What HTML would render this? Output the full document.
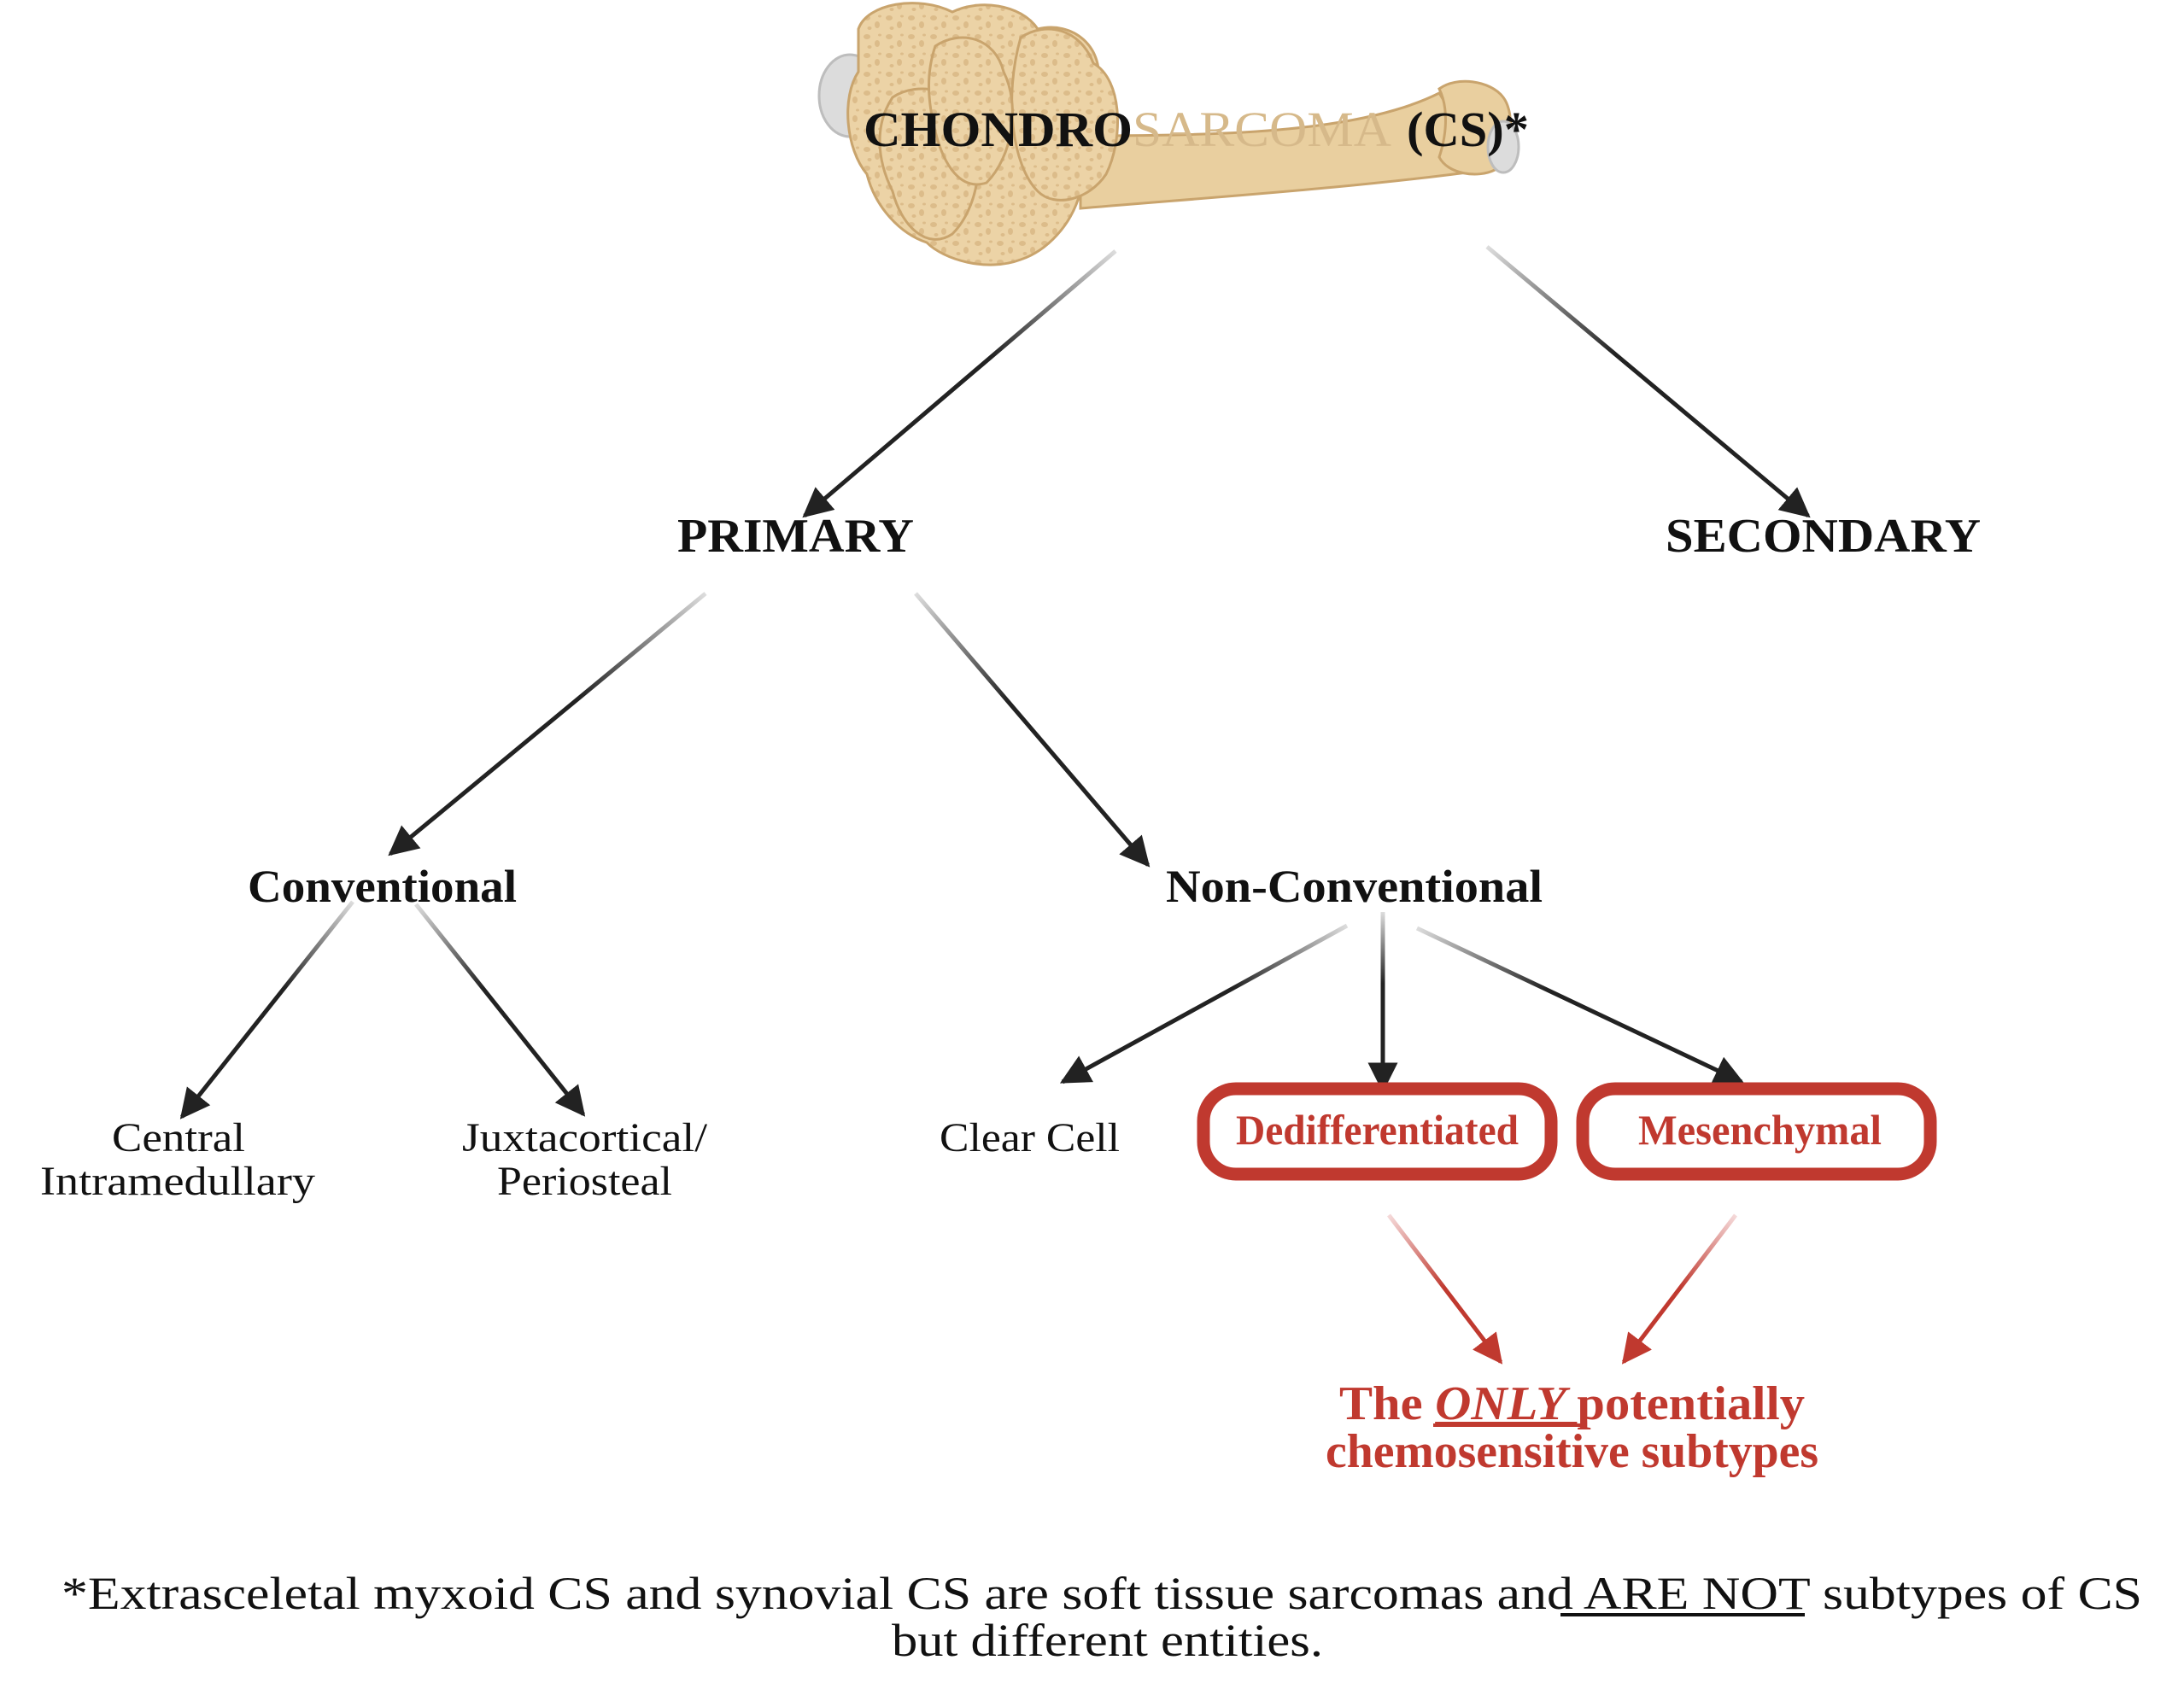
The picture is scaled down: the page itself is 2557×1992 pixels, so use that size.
<!DOCTYPE html>
<html><head><meta charset="utf-8"><style>
html,body{margin:0;padding:0;background:#fff;}
svg{display:block;}
text{font-family:"Liberation Serif","Times New Roman",serif;}
</style></head><body>
<svg width="2557" height="1992" viewBox="0 0 2557 1992" xmlns="http://www.w3.org/2000/svg">
<defs>
<marker id="ah" viewBox="0 0 10 10" refX="9" refY="5" markerWidth="7" markerHeight="7" orient="auto" markerUnits="strokeWidth"><path d="M0,0 L10,5 L0,10 z" fill="#222"/></marker>
<marker id="ahr" viewBox="0 0 10 10" refX="9" refY="5" markerWidth="7" markerHeight="7" orient="auto" markerUnits="strokeWidth"><path d="M0,0 L10,5 L0,10 z" fill="#c0392f"/></marker>
<pattern id="sp" width="26" height="22" patternUnits="userSpaceOnUse">
<rect width="26" height="22" fill="#ecd3a6"/>
<ellipse cx="6" cy="5" rx="4" ry="3" fill="#dcbc8a"/>
<ellipse cx="18" cy="13" rx="3" ry="4" fill="#dcbc8a"/>
<ellipse cx="9" cy="17" rx="2.5" ry="2" fill="#dcbc8a"/>
<ellipse cx="21" cy="3" rx="2" ry="1.5" fill="#dcbc8a"/>
</pattern>
<linearGradient id="g1" gradientUnits="userSpaceOnUse" x1="1311" y1="300" x2="947" y2="610"><stop offset="0" stop-color="#ddd"/><stop offset="0.4" stop-color="#222"/></linearGradient>
<linearGradient id="g2" gradientUnits="userSpaceOnUse" x1="1746" y1="295" x2="2122" y2="610"><stop offset="0" stop-color="#ddd"/><stop offset="0.4" stop-color="#222"/></linearGradient>
<linearGradient id="g3" gradientUnits="userSpaceOnUse" x1="831" y1="701" x2="462" y2="1006"><stop offset="0" stop-color="#ddd"/><stop offset="0.4" stop-color="#222"/></linearGradient>
<linearGradient id="g4" gradientUnits="userSpaceOnUse" x1="1077" y1="701" x2="1349" y2="1019"><stop offset="0" stop-color="#ddd"/><stop offset="0.4" stop-color="#222"/></linearGradient>
<linearGradient id="g5" gradientUnits="userSpaceOnUse" x1="418" y1="1062" x2="218" y2="1314"><stop offset="0" stop-color="#ddd"/><stop offset="0.4" stop-color="#222"/></linearGradient>
<linearGradient id="g6" gradientUnits="userSpaceOnUse" x1="492" y1="1065" x2="688" y2="1311"><stop offset="0" stop-color="#ddd"/><stop offset="0.4" stop-color="#222"/></linearGradient>
<linearGradient id="g7" gradientUnits="userSpaceOnUse" x1="1582" y1="1090" x2="1249" y2="1273"><stop offset="0" stop-color="#ddd"/><stop offset="0.4" stop-color="#222"/></linearGradient>
<linearGradient id="g8" gradientUnits="userSpaceOnUse" x1="1624" y1="1074" x2="1624.1" y2="1282"><stop offset="0" stop-color="#ddd"/><stop offset="0.4" stop-color="#222"/></linearGradient>
<linearGradient id="g9" gradientUnits="userSpaceOnUse" x1="1664" y1="1093" x2="2044" y2="1273"><stop offset="0" stop-color="#ddd"/><stop offset="0.4" stop-color="#222"/></linearGradient>
<linearGradient id="r1" gradientUnits="userSpaceOnUse" x1="1631" y1="1429" x2="1762" y2="1601"><stop offset="0" stop-color="#f5dada"/><stop offset="0.5" stop-color="#c0392f"/></linearGradient>
<linearGradient id="r2" gradientUnits="userSpaceOnUse" x1="2037" y1="1429" x2="1906" y2="1601"><stop offset="0" stop-color="#f5dada"/><stop offset="0.5" stop-color="#c0392f"/></linearGradient>
</defs>
<g transform="translate(-5,-6)">
<!-- bone -->
<g>
<ellipse cx="1000" cy="118" rx="36" ry="48" fill="#dcdcdc" stroke="#bdbdbd" stroke-width="3"/>
<path d="M1270,165 C1450,165 1600,160 1690,115 L1745,205 C1600,225 1450,235 1270,250 Z" fill="#e9cf9f" stroke="#c9a46d" stroke-width="3"/>
<path d="M1690,110 C1710,95 1750,100 1765,120 C1780,140 1775,190 1755,205 C1735,215 1700,210 1690,190 C1700,160 1700,130 1690,110 Z" fill="#e9cf9f" stroke="#c9a46d" stroke-width="3"/>
<ellipse cx="1765" cy="178" rx="18" ry="30" fill="#dcdcdc" stroke="#bdbdbd" stroke-width="3"/>
<g fill="url(#sp)" stroke="#c9a46d" stroke-width="3">
<path d="M1010,40 C1020,10 1080,0 1120,20 C1150,5 1200,10 1220,40 C1260,30 1300,60 1290,110 C1310,150 1300,200 1270,230 C1260,270 1230,300 1200,310 C1160,325 1110,310 1090,290 C1060,280 1030,250 1020,210 C995,180 990,120 1010,90 Z"/>
<path d="M1200,50 C1230,30 1270,40 1285,80 C1320,100 1320,170 1300,210 C1280,240 1240,250 1220,230 C1190,200 1180,120 1200,50 Z"/>
<path d="M1050,120 C1080,100 1130,110 1140,150 C1160,190 1150,250 1120,280 C1090,300 1060,270 1050,230 C1030,190 1030,150 1050,120 Z"/>
<path d="M1100,60 C1130,40 1170,50 1180,90 C1200,130 1190,190 1160,220 C1130,230 1110,200 1100,160 C1090,120 1090,90 1100,60 Z"/>
</g>
</g>
<text x="1016" y="177" font-size="58" font-weight="bold" fill="#111" textLength="315" lengthAdjust="spacingAndGlyphs">CHONDRO</text>
<text x="1331" y="177" font-size="58" fill="#d6b98a" textLength="303" lengthAdjust="spacingAndGlyphs">SARCOMA</text>
<text x="1652" y="177" font-size="58" font-weight="bold" fill="#111" textLength="143" lengthAdjust="spacingAndGlyphs">(CS)*</text>

<g stroke-width="5" fill="none">
<line x1="1311" y1="300" x2="947" y2="610" stroke="url(#g1)" marker-end="url(#ah)"/>
<line x1="1746" y1="295" x2="2122" y2="610" stroke="url(#g2)" marker-end="url(#ah)"/>
<line x1="831" y1="701" x2="462" y2="1006" stroke="url(#g3)" marker-end="url(#ah)"/>
<line x1="1077" y1="701" x2="1349" y2="1019" stroke="url(#g4)" marker-end="url(#ah)"/>
<line x1="418" y1="1062" x2="218" y2="1314" stroke="url(#g5)" marker-end="url(#ah)"/>
<line x1="492" y1="1065" x2="688" y2="1311" stroke="url(#g6)" marker-end="url(#ah)"/>
<line x1="1582" y1="1090" x2="1249" y2="1273" stroke="url(#g7)" marker-end="url(#ah)"/>
<line x1="1624" y1="1074" x2="1624" y2="1282" stroke="url(#g8)" marker-end="url(#ah)"/>
<line x1="1664" y1="1093" x2="2044" y2="1273" stroke="url(#g9)" marker-end="url(#ah)"/>
<line x1="1631" y1="1429" x2="1762" y2="1601" stroke="url(#r1)" marker-end="url(#ahr)"/>
<line x1="2037" y1="1429" x2="1906" y2="1601" stroke="url(#r2)" marker-end="url(#ahr)"/>
</g>

<g font-weight="bold" fill="#111" font-size="56">
<text x="798" y="652" textLength="277" lengthAdjust="spacingAndGlyphs">PRIMARY</text>
<text x="1955" y="652" textLength="369" lengthAdjust="spacingAndGlyphs">SECONDARY</text>
<text x="295" y="1062" font-size="54" textLength="315" lengthAdjust="spacingAndGlyphs">Conventional</text>
<text x="1370" y="1062" font-size="54" textLength="441" lengthAdjust="spacingAndGlyphs">Non-Conventional</text>
</g>
<g fill="#111" font-size="48">
<text x="136" y="1354" textLength="156" lengthAdjust="spacingAndGlyphs">Central</text>
<text x="52" y="1405" textLength="322" lengthAdjust="spacingAndGlyphs">Intramedullary</text>
<text x="546" y="1354" textLength="287" lengthAdjust="spacingAndGlyphs">Juxtacortical/</text>
<text x="587" y="1405" textLength="205" lengthAdjust="spacingAndGlyphs">Periosteal</text>
<text x="1105" y="1354" textLength="211" lengthAdjust="spacingAndGlyphs">Clear Cell</text>
</g>

<rect x="1414" y="1281" width="407" height="100" rx="38" fill="#fff" stroke="#c0392f" stroke-width="15"/>
<rect x="1858" y="1281" width="407" height="100" rx="38" fill="#fff" stroke="#c0392f" stroke-width="15"/>
<g font-weight="bold" fill="#c0392f" font-size="50">
<text x="1452" y="1346" textLength="331" lengthAdjust="spacingAndGlyphs">Dedifferentiated</text>
<text x="1923" y="1346" textLength="285" lengthAdjust="spacingAndGlyphs">Mesenchymal</text>
<text x="1573" y="1668" font-size="56" textLength="545" lengthAdjust="spacingAndGlyphs">The <tspan font-style="italic" text-decoration="underline">ONLY </tspan>potentially</text>
<text x="1557" y="1724" font-size="56" textLength="577" lengthAdjust="spacingAndGlyphs">chemosensitive subtypes</text>
</g>
<line x1="1683" y1="1675" x2="1860" y2="1675" stroke="#c0392f" stroke-width="4"/>

<g fill="#111" font-size="54">
<text x="77" y="1890" textLength="2436" lengthAdjust="spacingAndGlyphs">*Extrasceletal myxoid CS and synovial CS are soft tissue sarcomas and ARE NOT subtypes of CS</text>
<text x="1049" y="1945" textLength="505" lengthAdjust="spacingAndGlyphs">but different entities.</text>
</g>
<line x1="1832" y1="1897" x2="2118" y2="1897" stroke="#111" stroke-width="4"/>
</g>
</svg>
</body></html>
